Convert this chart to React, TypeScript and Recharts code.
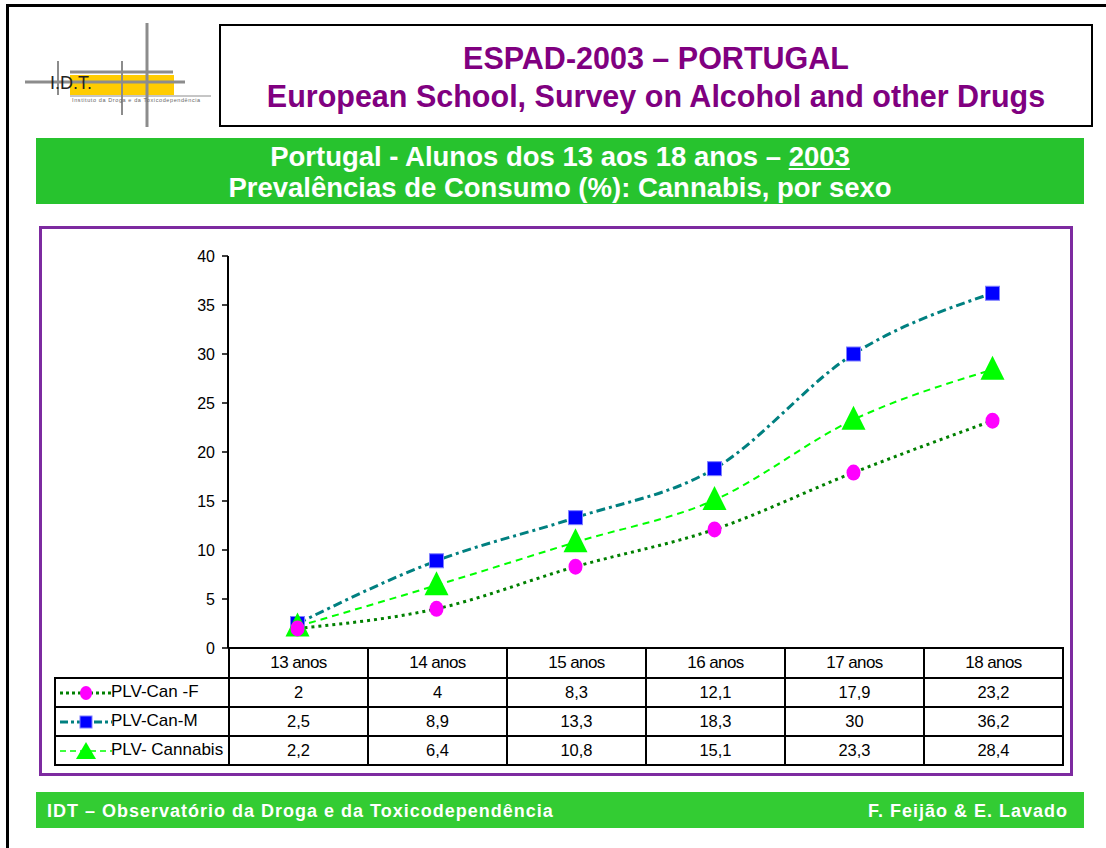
import React from 'react';
import { LineChart, Line, XAxis, YAxis } from 'recharts';

const categories = ['13 anos', '14 anos', '15 anos', '16 anos', '17 anos', '18 anos'];
const canF = [2, 4, 8.3, 12.1, 17.9, 23.2];
const canM = [2.5, 8.9, 13.3, 18.3, 30, 36.2];
const cannabis = [2.2, 6.4, 10.8, 15.1, 23.3, 28.4];
const yTicks = [0, 5, 10, 15, 20, 25, 30, 35, 40];

const seriesNames = ['PLV-Can -F', 'PLV-Can-M', 'PLV- Cannabis'];

const GREEN = '#27c32e';
const FOOT_GREEN = '#33cc33';
const PURPLE = '#800080';
const BOX_PURPLE = '#7d2aa0';
const FONT = 'Arial, "Liberation Sans", Helvetica, sans-serif';

const fmt = (v: number) => String(v).replace('.', ',');

const chartData = categories.map((c, i) => ({
  cat: c,
  f: canF[i],
  m: canM[i],
  all: cannabis[i],
}));

// plot geometry (page coordinates)
const CHART_LEFT = 160;
const CHART_TOP = 240;
const PLOT_LEFT = 228;
const PLOT_RIGHT = 1062;
const PLOT_BOTTOM = 648;
const COL_W = (PLOT_RIGHT - PLOT_LEFT) / categories.length;

const CircleDot = (props: any) => {
  const { cx, cy } = props;
  if (cx == null || cy == null) return null;
  return <ellipse cx={cx} cy={cy} rx={7} ry={8} fill="#ff00ff" />;
};

const SquareDot = (props: any) => {
  const { cx, cy } = props;
  if (cx == null || cy == null) return null;
  return (
    <rect x={cx - 7} y={cy - 7} width={14} height={14} fill="#0000ff" stroke="#7f7fff" strokeWidth={1} />
  );
};

const TriangleDot = (props: any) => {
  const { cx, cy } = props;
  if (cx == null || cy == null) return null;
  return <polygon points={`${cx},${cy - 14} ${cx - 12},${cy + 10} ${cx + 12},${cy + 10}`} fill="#00ff00" />;
};

function LegendKey({ kind }: { kind: number }) {
  return (
    <svg width={56} height={20} style={{ verticalAlign: 'middle', marginLeft: 2 }}>
      {kind === 0 && (
        <>
          <line x1={2} y1={10} x2={54} y2={10} stroke="#008000" strokeWidth={3} strokeDasharray="3 3" />
          <ellipse cx={28} cy={10} rx={6} ry={7} fill="#ff00ff" />
        </>
      )}
      {kind === 1 && (
        <>
          <line x1={2} y1={10} x2={54} y2={10} stroke="#008080" strokeWidth={3} strokeDasharray="8 3 3 3" />
          <rect x={22} y={4} width={12} height={12} fill="#0000ff" stroke="#7f7fff" />
        </>
      )}
      {kind === 2 && (
        <>
          <line x1={2} y1={10} x2={54} y2={10} stroke="#00ff00" strokeWidth={1.5} strokeDasharray="6 4" />
          <polygon points="28,1 18,18 38,18" fill="#00ff00" />
        </>
      )}
    </svg>
  );
}

function Logo() {
  return (
    <div style={{ position: 'absolute', left: 0, top: 0, width: 215, height: 130 }}>
      <svg width={215} height={130}>
        <rect x={70} y={75} width={104} height={20} fill="#ffcc00" />
        <line x1={70} y1={72} x2={173} y2={72} stroke="#8c8c8c" strokeWidth={3} />
        <line x1={25} y1={82} x2={185} y2={82} stroke="#8c8c8c" strokeWidth={3} />
        <line x1={147} y1={23} x2={147} y2={127} stroke="#8c8c8c" strokeWidth={3} />
        <line x1={122} y1={61} x2={122} y2={115} stroke="#8c8c8c" strokeWidth={2} />
        <line x1={58} y1={61} x2={58} y2={95} stroke="#8c8c8c" strokeWidth={2} />
        <line x1={70} y1={96} x2={211} y2={96} stroke="#8c8c8c" strokeWidth={1} />
        <text x={50} y={89} fontSize={18} fontFamily={FONT} fill="#222">I.D.T.</text>
        <text x={72} y={102} fontSize={5.5} fontFamily={FONT} fill="#666" letterSpacing={0.6}>
          Instituto da Droga e da Toxicodependência
        </text>
      </svg>
    </div>
  );
}

const cellBorder = '2px solid #000';

export default function App() {
  return (
    <div
      style={{
        position: 'absolute',
        left: 0,
        top: 0,
        width: 1106,
        height: 848,
        background: '#fff',
        fontFamily: FONT,
        overflow: 'hidden',
      }}
    >
      {/* outer frame */}
      <div style={{ position: 'absolute', left: 6, top: 4, width: 1200, height: 900, borderLeft: '3px solid #000', borderTop: '3px solid #000' }} />

      <Logo />

      {/* title box */}
      <div
        style={{
          position: 'absolute',
          left: 219,
          top: 24,
          width: 874,
          height: 103,
          border: '2px solid #000',
          boxSizing: 'border-box',
        }}
      />
      <div style={{ position: 'absolute', left: 219, top: 39, width: 874, textAlign: 'center', color: PURPLE, fontWeight: 'bold', fontSize: 30.5, lineHeight: '38px' }}>
        <div>ESPAD-2003 – PORTUGAL</div>
        <div>European School, Survey on Alcohol and other Drugs</div>
      </div>

      {/* green banner */}
      <div
        style={{
          position: 'absolute',
          left: 36,
          top: 138,
          width: 1048,
          height: 66,
          background: GREEN,
          color: '#fff',
          fontWeight: 'bold',
          fontSize: 27.5,
          textAlign: 'center',
          lineHeight: '31px',
          paddingTop: 3,
          boxSizing: 'border-box',
        }}
      >
        <div>
          Portugal - Alunos dos 13 aos 18 anos – <span style={{ textDecoration: 'underline' }}>2003</span>
        </div>
        <div>Prevalências de Consumo (%): Cannabis, por sexo</div>
      </div>

      {/* chart box */}
      <div
        style={{
          position: 'absolute',
          left: 39,
          top: 226,
          width: 1034,
          height: 550,
          border: `3px solid ${BOX_PURPLE}`,
          boxSizing: 'border-box',
        }}
      />

      <div style={{ position: 'absolute', left: CHART_LEFT, top: CHART_TOP }}>
        <LineChart
          width={920}
          height={PLOT_BOTTOM - CHART_TOP + 14}
          data={chartData}
          margin={{ top: 16, right: 920 - (PLOT_RIGHT - CHART_LEFT), left: 0, bottom: 14 }}
        >
          <XAxis dataKey="cat" hide padding={{ left: COL_W / 2, right: COL_W / 2 }} />
          <YAxis
            width={PLOT_LEFT - CHART_LEFT}
            domain={[0, 40]}
            ticks={yTicks}
            interval={0}
            tickSize={6}
            tickMargin={7}
            axisLine={{ stroke: '#000', strokeWidth: 2 }}
            tickLine={{ stroke: '#000', strokeWidth: 1.5 }}
            tick={{ fill: '#000', fontSize: 16, fontFamily: FONT }}
          />
          <Line
            dataKey="m"
            type="monotone"
            stroke="#008080"
            strokeWidth={3}
            strokeDasharray="9 4 3 4"
            dot={<SquareDot />}
            activeDot={false}
            isAnimationActive={false}
          />
          <Line
            dataKey="all"
            type="monotone"
            stroke="#00ff00"
            strokeWidth={2}
            strokeDasharray="7 5"
            dot={<TriangleDot />}
            activeDot={false}
            isAnimationActive={false}
          />
          <Line
            dataKey="f"
            type="monotone"
            stroke="#008000"
            strokeWidth={3}
            strokeDasharray="3 4"
            dot={<CircleDot />}
            activeDot={false}
            isAnimationActive={false}
          />
        </LineChart>
      </div>

      {/* data table */}
      <table
        style={{
          position: 'absolute',
          left: 54,
          top: PLOT_BOTTOM - 1,
          borderCollapse: 'collapse',
          fontSize: 16.5,
          fontFamily: FONT,
          color: '#000',
          tableLayout: 'fixed',
        }}
      >
        <colgroup>
          <col style={{ width: PLOT_LEFT - 54 }} />
          {categories.map((c) => (
            <col key={c} style={{ width: COL_W }} />
          ))}
        </colgroup>
        <tbody>
          <tr style={{ height: 30 }}>
            <td style={{ padding: 0 }} />
            {categories.map((c) => (
              <td key={c} style={{ border: cellBorder, textAlign: 'center', padding: 0, letterSpacing: -0.6, fontSize: 17 }}>
                {c}
              </td>
            ))}
          </tr>
          {[canF, canM, cannabis].map((vals, r) => (
            <tr key={r} style={{ height: 29 }}>
              <td style={{ border: cellBorder, padding: 0, whiteSpace: 'nowrap', overflow: 'hidden', fontSize: 17 }}>
                <LegendKey kind={r} />
                <span style={{ marginLeft: -3 }}>{seriesNames[r]}</span>
              </td>
              {vals.map((v, i) => (
                <td key={i} style={{ border: cellBorder, textAlign: 'center', padding: 0 }}>
                  {fmt(v)}
                </td>
              ))}
            </tr>
          ))}
        </tbody>
      </table>

      {/* footer */}
      <div
        style={{
          position: 'absolute',
          left: 36,
          top: 792,
          width: 1048,
          height: 36,
          background: FOOT_GREEN,
          color: '#fff',
          fontWeight: 'bold',
          fontSize: 18,
          lineHeight: '38px',
          display: 'flex',
          justifyContent: 'space-between',
          padding: '0 16px 0 11px',
          boxSizing: 'border-box',
          letterSpacing: 1,
        }}
      >
        <span>IDT – Observatório da Droga e da Toxicodependência</span>
        <span>F. Feijão &amp; E. Lavado</span>
      </div>
    </div>
  );
}
